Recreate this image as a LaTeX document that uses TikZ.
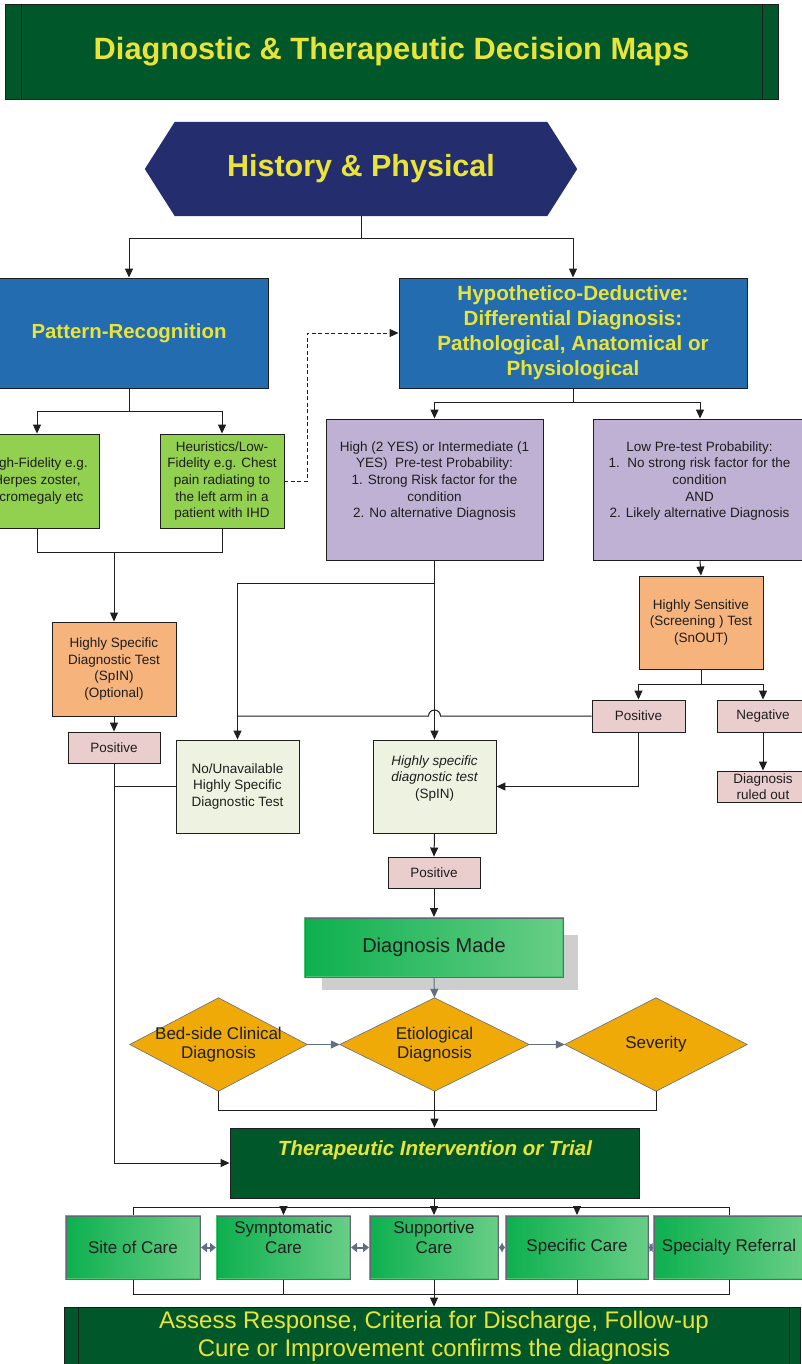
\documentclass[tikz,border=0pt]{standalone}
\usepackage{fontspec}
\setmainfont{Liberation Sans}
\usetikzlibrary{arrows.meta,calc,backgrounds}
\definecolor{dkgreen}{RGB}{0,88,42}
\definecolor{ylw}{RGB}{234,228,56}
\definecolor{navy}{RGB}{36,46,110}
\definecolor{blu}{RGB}{35,108,176}
\definecolor{lgreen}{RGB}{146,208,80}
\definecolor{purp}{RGB}{191,177,212}
\definecolor{orng}{RGB}{246,179,124}
\definecolor{pnk}{RGB}{234,205,205}
\definecolor{cream}{RGB}{238,242,224}
\definecolor{dmnd}{RGB}{239,170,8}
\definecolor{gryarr}{RGB}{98,108,130}
\definecolor{shadowgray}{RGB}{206,206,206}
\definecolor{gl}{RGB}{13,176,79}
\definecolor{gr}{RGB}{104,206,134}
\definecolor{gborder}{RGB}{70,196,110}
\definecolor{grayb}{RGB}{95,105,115}
\definecolor{ink}{RGB}{30,30,30}
\begin{document}
\begin{tikzpicture}[x=1pt,y=-1pt,
  ln/.style={draw=ink, line width=1pt},
  arr/.style={ln, -{Triangle[length=9pt,width=8pt]}},
  garr/.style={draw=gryarr, line width=1pt, -{Triangle[length=9pt,width=8pt]}},
  dbl/.style={draw=gryarr, line width=2pt, {Triangle[length=6pt,width=9pt]}-{Triangle[length=6pt,width=9pt]}},
  sdbl/.style={draw=gryarr, line width=2pt, {Triangle[length=3.5pt,width=9pt]}-{Triangle[length=3.5pt,width=9pt]}},
  bx/.style={draw=ink, line width=0.9pt, inner sep=0pt, text=ink, align=center},
  txt/.style={inner sep=0pt, align=center, text=ink},
  sm/.style={font=\fontsize{13.5}{16.7}\selectfont},
  gbox/.style={left color=gl, right color=gr, draw=gborder, line width=2pt, inner sep=0pt, text=ink, align=center, postaction={draw=grayb, line width=0.7pt}},
  care/.style={font=\fontsize{17}{20}\selectfont},
  dia/.style={fill=dmnd, draw=gryarr, line width=0.6pt}
]
\useasboundingbox (0,0) rectangle (802,1364);
\begin{pgfonlayer}{background}
\fill[white] (0,0) rectangle (802,1364);
\end{pgfonlayer}
\clip (0,0) rectangle (802,1364);

% header
\node[bx, fill=dkgreen, minimum width=773pt, minimum height=95pt, text=ylw, font=\fontsize{30.8}{36}\selectfont\bfseries] (hdr) at (391.5,51.5) {Diagnostic \& Therapeutic Decision Maps};
\draw[ink, line width=0.6pt] ($(hdr.north west)+(16.5,0)$) -- ($(hdr.south west)+(16.5,0)$);
\draw[ink, line width=0.6pt] ($(hdr.north east)+(-16,0)$) -- ($(hdr.south east)+(-16,0)$);

% history & physical
\node[txt, text=ylw, minimum width=432pt, minimum height=94pt, font=\fontsize{30.5}{36}\selectfont\bfseries] (hp) at (361,169) {History \& Physical};
\begin{pgfonlayer}{background}
\fill[navy] (hp.west) -- ($(hp.north west)+(30,0)$) -- ($(hp.north east)+(-30,0)$) -- (hp.east) -- ($(hp.south east)+(-30,0)$) -- ($(hp.south west)+(30,0)$) -- cycle;
\end{pgfonlayer}

% blue boxes
\node[bx, fill=blu, minimum width=278pt, minimum height=110pt, text=ylw, font=\fontsize{20.4}{25}\selectfont\bfseries] (pr) at (129,333) {Pattern-Recognition};
\node[bx, fill=blu, minimum width=348pt, minimum height=110pt, text=ylw, font=\fontsize{20.6}{25}\selectfont\bfseries] (hd) at (573,333) {Hypothetico-Deductive:\\Differential Diagnosis:\\Pathological, Anatomical or\\Physiological};

% green boxes
\node[bx, sm, fill=lgreen, minimum width=124pt, minimum height=94pt] (g1) at (37,481) {High-Fidelity e.g.\\Herpes zoster,\\Acromegaly etc};
\node[bx, sm, fill=lgreen, minimum width=124pt, minimum height=94pt] (g2) at (222,481) {Heuristics/Low-\\Fidelity e.g. Chest\\pain radiating to\\the left arm in a\\patient with IHD};

% purple boxes
\node[bx, fill=purp, minimum width=217pt, minimum height=141pt] (pl) at (434.5,489.5) {};
\node[txt, sm] (plt) at (434.5,481) {High (2 YES) or Intermediate (1\\YES)\ \ Pre-test Probability:\\1. Strong Risk factor for the\\condition\\2. No alternative Diagnosis};
\node[bx, fill=purp, minimum width=214pt, minimum height=141pt] (prt) at (700,489.5) {};
\node[txt, sm] (prtt) at (699.5,481) {Low Pre-test Probability:\\1.\ \ No strong risk factor for the\\condition\\AND\\2. Likely alternative Diagnosis};

% orange boxes
\node[bx, sm, fill=orng, minimum width=124pt, minimum height=94pt] (o1) at (114,669) {Highly Specific\\Diagnostic Test\\(SpIN)\\(Optional)};
\node[bx, sm, fill=orng, minimum width=124pt, minimum height=93pt] (os) at (701,622.5) {Highly Sensitive\\(Screening ) Test\\(SnOUT)};

% small boxes
\node[bx, sm, fill=pnk, minimum width=92pt, minimum height=31pt] (p1) at (114,747.5) {Positive};
\node[bx, sm, fill=pnk, minimum width=93pt, minimum height=32pt] (posR) at (638.5,716) {Positive};
\node[bx, sm, fill=pnk, minimum width=92pt, minimum height=32pt] (neg) at (763,716) {Negative};
\node[bx, fill=pnk, minimum width=92pt, minimum height=31pt, font=\fontsize{13.5}{16}\selectfont] (dro) at (763,786.5) {Diagnosis\\ruled out};
\node[bx, sm, fill=pnk, minimum width=92pt, minimum height=31pt] (pm) at (434,872.5) {Positive};

% cream boxes
\node[bx, sm, fill=cream, minimum width=123pt, minimum height=93pt] (nu) at (237.5,786.5) {No/Unavailable\\Highly Specific\\Diagnostic Test};
\node[bx, fill=cream, minimum width=123pt, minimum height=93pt] (hs) at (434.5,786.5) {};
\node[txt, sm] (hst) at (434.5,778.5) {{\itshape Highly specific}\\{\itshape diagnostic test}\\(SpIN)};

% diagnosis made
\begin{pgfonlayer}{background}
\fill[shadowgray] (322,935) rectangle (578,990);
\end{pgfonlayer}
\node[gbox, minimum width=258pt, minimum height=59pt, font=\fontsize{20}{24}\selectfont] (dm) at (434,947.5) {Diagnosis Made};

% diamonds
\node[txt, minimum width=177pt, minimum height=93pt, font=\fontsize{17}{19}\selectfont] (bed) at (218.5,1044.5) {Bed-side Clinical\\Diagnosis};
\node[txt, minimum width=189pt, minimum height=93pt, font=\fontsize{17}{19}\selectfont] (eti) at (434.5,1044.5) {Etiological\\Diagnosis};
\node[txt, minimum width=182pt, minimum height=93pt, font=\fontsize{17}{19}\selectfont] (sev) at (656,1044.5) {Severity};
\begin{pgfonlayer}{background}
\path[dia] (bed.west) -- (bed.north) -- (bed.east) -- (bed.south) -- cycle;
\path[dia] (eti.west) -- (eti.north) -- (eti.east) -- (eti.south) -- cycle;
\path[dia] (sev.west) -- (sev.north) -- (sev.east) -- (sev.south) -- cycle;
\end{pgfonlayer}

% therapeutic
\node[bx, fill=dkgreen, minimum width=409pt, minimum height=70pt] (th) at (434.5,1163) {};
\node[txt, text=ylw, font=\fontsize{20.5}{24}\selectfont\bfseries\itshape] (tht) at (435,1150) {Therapeutic Intervention or Trial};

% care boxes
\node[gbox, care, minimum width=134pt, minimum height=63pt] (site) at (133,1247.5) {Site of Care};
\node[gbox, minimum width=133pt, minimum height=63pt] (sym) at (283.5,1247.5) {};
\node[txt, care] (symt) at (283.5,1237) {Symptomatic\\Care};
\node[gbox, minimum width=128pt, minimum height=63pt] (sup) at (434,1247.5) {};
\node[txt, care] (supt) at (434,1237) {Supportive\\Care};
\node[gbox, care, minimum width=142pt, minimum height=63pt] (spc) at (577,1247.5) {Specific Care};
\node[gbox, care, minimum width=150pt, minimum height=63pt] (ref) at (729,1247.5) {Specialty Referral};

% bottom banner
\node[bx, fill=dkgreen, minimum width=736pt, minimum height=66pt] (bb) at (432,1340) {};
\draw[ink, line width=0.6pt] ($(bb.north west)+(15,0)$) -- ($(bb.south west)+(15,0)$);
\draw[ink, line width=0.6pt] ($(bb.north east)+(-11,0)$) -- ($(bb.south east)+(-11,0)$);
\node[txt, text=ylw, font=\fontsize{24}{28}\selectfont] (bbt) at (434,1336) {Assess Response, Criteria for Discharge, Follow-up\\Cure or Improvement confirms the diagnosis};

% connectors
\draw[ln] (hp.south) -- ++(0,22) coordinate (j1);
\draw[arr] (j1) -| (pr.north);
\draw[arr] (j1) -| (hd.north);

\draw[ln] (pr.south) -- ++(0,23) coordinate (j2);
\draw[arr] (j2) -| (g1.north);
\draw[arr] (j2) -| (g2.north);

\draw[ln, dashed, dash pattern=on 4pt off 2.5pt, -{Triangle[length=9pt,width=8pt]}] (g2.east) -- ++(23,0) |- (hd.west);

\draw[ln] (g1.south) -- ++(0,24) coordinate (j3) -- (j3 -| g2.south) -- (g2.south);
\draw[arr] (j3 -| o1.north) -- (o1.north);
\draw[arr] (o1.south) -- (p1.north);
\draw[arr] (p1.south) |- (th.west);
\draw[ln] (nu.west) -- (nu.west -| p1.south);

\draw[ln] (hd.south) -- ++(0,14) coordinate (j4);
\draw[arr] (j4) -| (pl.north);
\draw[arr] (j4) -| (prt.north);

\draw[arr] (pl.south) -- (hs.north);
\draw[arr] ($(pl.south)+(0,23)$) -| (nu.north);
\draw[ln] (posR.west) -- ($(pl.south |- posR.west)+(6,0)$) arc[start angle=0, end angle=180, radius=6pt] -- (nu.north |- posR.west);

\draw[arr] (prt.south) -- (os.north);
\draw[ln] (os.south) -- ++(0,15) coordinate (j5);
\draw[arr] (j5) -| (posR.north);
\draw[arr] (j5) -| (neg.north);
\draw[arr] (posR.south) |- (hs.east);
\draw[arr] (neg.south) -- (dro.north);

\draw[arr] (hs.south) -- (pm.north);
\draw[arr] (pm.south) -- (dm.north);
\draw[garr] (dm.south) -- (eti.north);
\draw[garr] (bed.east) -- (eti.west);
\draw[garr] (eti.east) -- (sev.west);
\draw[ln] (bed.south) -- ++(0,19) -| (sev.south);
\draw[arr] (eti.south) -- (th.north);

\draw[ln] (th.south) -- ++(0,9) coordinate (j6);
\draw[ln] (site.north) -- (site.north |- j6) -- (ref.north |- j6) -- (ref.north);
\draw[arr] (sym.north |- j6) -- (sym.north);
\draw[arr] (sup.north |- j6) -- (sup.north);
\draw[arr] (spc.north |- j6) -- (spc.north);

\draw[ln] (site.south) -- ++(0,14) coordinate (j7) -| (ref.south);
\draw[ln] (sym.south) -- (sym.south |- j7);
\draw[ln] (spc.south) -- (spc.south |- j7);
\draw[arr] (sup.south) -- (sup.south |- bb.north);

\draw[dbl] (site.east) -- (sym.west);
\draw[dbl] (sym.east) -- (sup.west);
\draw[sdbl] (sup.east) -- (spc.west);
\draw[sdbl] (spc.east) -- (ref.west);
\end{tikzpicture}
\end{document}
